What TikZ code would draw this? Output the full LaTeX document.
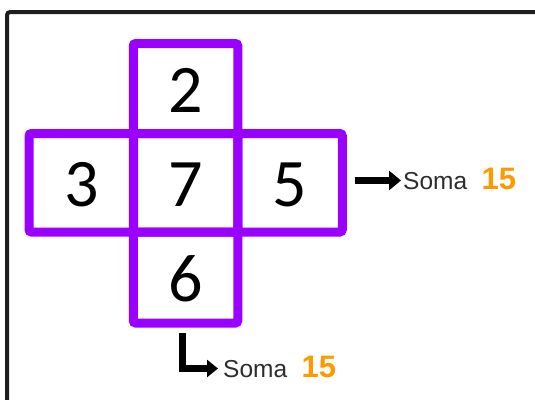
\documentclass[tikz,border=0pt]{standalone}
\usepackage{fontspec}
\setmainfont{Carlito}
\newfontfamily\arialf{Liberation Sans}
\usetikzlibrary{arrows.meta}
\definecolor{vio}{RGB}{153,0,255}
\definecolor{org}{RGB}{255,153,0}
\definecolor{txt}{RGB}{45,45,45}
\definecolor{frm}{RGB}{30,30,30}
\begin{document}
\begin{tikzpicture}[x=1pt,y=-1pt,
  cell/.style={draw=vio, line width=9pt, rounded corners=2.5pt, minimum width=104.5pt,
    inner sep=0pt, text height=47pt, text depth=0pt, font=\fontsize{68}{68}\selectfont},
  soma/.style={inner sep=0pt, anchor=base west},
  arr/.style={draw=black, line width=7pt, -{Triangle[length=12pt,width=19pt]}},
  arrL/.style={draw=black, line width=7.5pt, -{Triangle[length=11pt,width=17pt]}, miter limit=10},
  frame/.style={draw=frm, line width=4pt, rounded corners=3pt}
]
\useasboundingbox (0,0) rectangle (535,399);
\draw[frame] (7,430) -- (7,12) -- (560,12);

\node[cell, minimum height=90pt]   (c2) at (185.5,88.5)   {2};
\node[cell, minimum height=98.5pt] (c3) at (81.25,182.75) {3};
\node[cell, minimum height=98.5pt] (c5) at (290,182.75)   {5};
\node[cell, minimum height=91pt]   (c6) at (185.5,277.5)  {6};
\node[cell, minimum height=98.5pt] (c7) at (185.5,182.75) {7};

\node[soma] (t1) at (403,189) {{\arialf\fontsize{24.5}{24.5}\selectfont\color{txt}Soma}\hspace{14.5pt}{\arialf\bfseries\fontsize{31}{31}\selectfont\color{org}15}};
\node[soma] (t2) at (223,377) {{\arialf\fontsize{24.5}{24.5}\selectfont\color{txt}Soma}\hspace{14.5pt}{\arialf\bfseries\fontsize{31}{31}\selectfont\color{org}15}};

\draw[arr, shorten <=8pt, shorten >=2pt] ([yshift=-2pt]c5.east |- t1.west) -- ([yshift=-2pt]t1.west);
\draw[arrL, shorten >=5pt] ([xshift=-3pt,yshift=-5pt]c6.south) |- ([yshift=-2pt]t2.west);
\end{tikzpicture}
\end{document}
